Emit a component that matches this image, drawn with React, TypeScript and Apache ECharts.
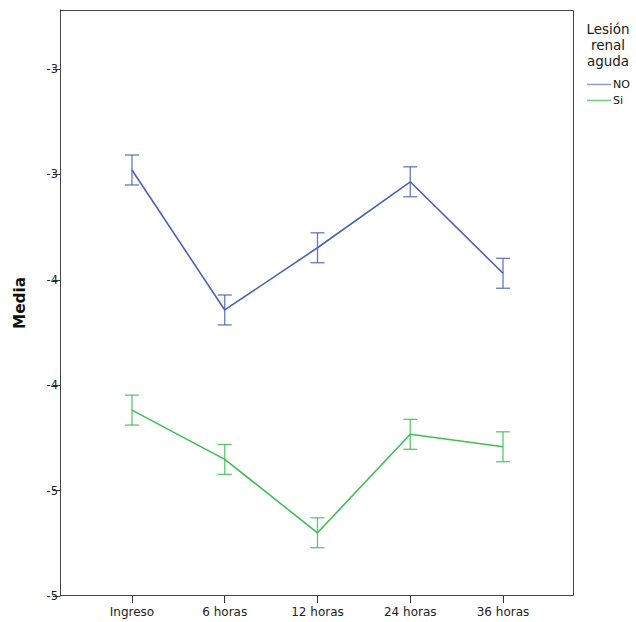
import React, { useEffect, useRef } from "react";
import * as echarts from "echarts";

const categories = ["Ingreso", "6 horas", "12 horas", "24 horas", "36 horas"];
const seriesNames = ["NO", "Si"];
const noMeans = [-2.979, -3.643, -3.348, -3.035, -3.469];
const siMeans = [-4.118, -4.352, -4.7, -4.233, -4.292];
const noErr = [0.071, 0.071, 0.071, 0.071, 0.071];
const siErr = [0.071, 0.071, 0.071, 0.071, 0.071];
const yTickValues = [-5, -4.5, -4, -3.5, -3, -2.5];
const yTickLabels = ["-5", "-5", "-4", "-4", "-3", "-3"];
const legendTitle = "Lesión\nrenal\naguda";
const yName = "Media";

const COLORS = ["#4a62b6", "#3dbf55"];
const LEGEND_COLORS = ["#8e9dd6", "#6fd283"];
const FONT = "'DejaVu Sans', sans-serif";

function errorSeries(name: string, means: number[], errs: number[], color: string) {
  return {
    name,
    type: "custom",
    z: 4,
    silent: true,
    data: means.map((m, i) => [i, m - errs[i], m + errs[i]]),
    renderItem: (params: any, api: any) => {
      const x = api.value(0);
      const lo = api.coord([x, api.value(1)]);
      const hi = api.coord([x, api.value(2)]);
      const w = 7;
      const style = { stroke: color, lineWidth: 1.3, opacity: 0.85 };
      return {
        type: "group",
        children: [
          { type: "line", shape: { x1: lo[0], y1: lo[1], x2: hi[0], y2: hi[1] }, style },
          { type: "line", shape: { x1: lo[0] - w, y1: lo[1], x2: lo[0] + w, y2: lo[1] }, style },
          { type: "line", shape: { x1: hi[0] - w, y1: hi[1], x2: hi[0] + w, y2: hi[1] }, style },
        ],
      };
    },
  };
}

export default function App() {
  const ref = useRef<HTMLDivElement>(null);
  useEffect(() => {
    if (!ref.current) return;
    const chart = echarts.init(ref.current, null, { renderer: "svg" });
    chart.setOption({
      animation: false,
      backgroundColor: "#ffffff",
      textStyle: { fontFamily: FONT },
      grid: { left: 85.6, right: 86.6, top: 10, bottom: 26 },
      legend: {
        data: seriesNames.map((n, i) => ({ name: n, itemStyle: { color: LEGEND_COLORS[i] } })),
        orient: "vertical",
        left: 587,
        top: 77.5,
        itemWidth: 24,
        itemHeight: 1.5,
        itemGap: 2,
        padding: 0,
        icon: "rect",
        textStyle: {
          fontSize: 11,
          lineHeight: 14,
          color: "#111",
          fontFamily: FONT,
          padding: [0, 0, 0, -3],
        },
      },
      xAxis: {
        type: "category",
        data: categories,
        boundaryGap: true,
        axisLine: { show: false },
        axisTick: { show: true, alignWithLabel: true, length: 7, lineStyle: { color: "#333" } },
        axisLabel: { fontSize: 12, color: "#222", margin: 10, fontFamily: FONT },
      },
      yAxis: {
        type: "value",
        min: -5,
        max: -2.22,
        offset: 25.6,
        name: yName,
        nameLocation: "middle",
        nameGap: 33,
        nameRotate: 90,
        nameTextStyle: { fontSize: 15.3, fontWeight: "bold", color: "#111", fontFamily: FONT },
        axisLine: { show: true, lineStyle: { color: "#222", width: 1 } },
        axisTick: { show: true, length: 7, customValues: yTickValues, lineStyle: { color: "#333" } },
        axisLabel: {
          fontSize: 11.5,
          color: "#222",
          margin: 2,
          fontFamily: FONT,
          customValues: yTickValues,
          formatter: (v: number) => {
            const idx = yTickValues.findIndex((t) => Math.abs(t - v) < 1e-6);
            return idx >= 0 ? yTickLabels[idx] : "";
          },
        },
        splitLine: { show: false },
      },
      graphic: [
        {
          type: "rect",
          shape: { x: 60.5, y: 10.5, width: 513, height: 585 },
          style: { fill: "none", stroke: "#444", lineWidth: 1 },
          z: 1,
          silent: true,
        },
        {
          type: "text",
          x: 608,
          y: 21,
          style: {
            text: legendTitle,
            fontSize: 13.5,
            lineHeight: 16,
            fill: "#1a1a1a",
            align: "center",
            verticalAlign: "top",
            fontFamily: FONT,
          },
        },
      ],
      series: [
        {
          name: seriesNames[0],
          type: "line",
          data: noMeans,
          symbol: "none",
          lineStyle: { color: COLORS[0], width: 1.6 },
          itemStyle: { color: COLORS[0] },
          z: 3,
        },
        {
          name: seriesNames[1],
          type: "line",
          data: siMeans,
          symbol: "none",
          lineStyle: { color: COLORS[1], width: 1.6 },
          itemStyle: { color: COLORS[1] },
          z: 3,
        },
        errorSeries("NO_err", noMeans, noErr, COLORS[0]),
        errorSeries("Si_err", siMeans, siErr, COLORS[1]),
      ],
    });
    return () => chart.dispose();
  }, []);
  return (
    <div
      ref={ref}
      style={{ position: "fixed", left: 0, top: 0, width: 636, height: 622 }}
    />
  );
}
